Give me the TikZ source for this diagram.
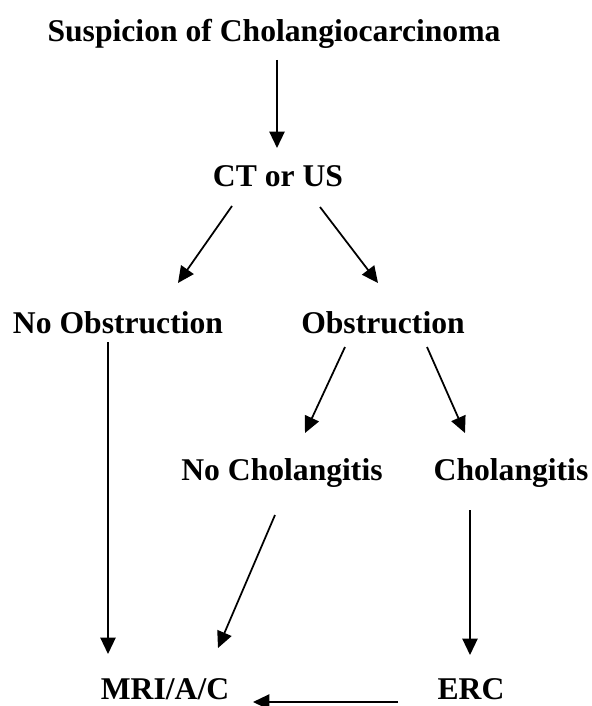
\documentclass[tikz,border=0pt]{standalone}
\usepackage{fontspec}
\setmainfont{Liberation Serif}
\usetikzlibrary{arrows.meta,calc}

\begin{document}
\begin{tikzpicture}[x=0.03cm,y=-0.03cm,
        lbl/.style={font=\fontsize{27}{32}\selectfont\bfseries,anchor=base,inner sep=0pt},
        arr/.style={line width=1.5pt,-{Triangle[length=14pt,width=13pt]}}]
        \useasboundingbox (0,0) rectangle (591,706);
        % labels, placed by baseline
        \node[lbl] (susp) at (274,42) {Suspicion of Cholangiocarcinoma};
        \node[lbl] (ct) at (278,186) {CT or US};
        \node[lbl] (noobs) at (118,333) {No Obstruction};
        \node[lbl] (obs) at (383,333) {Obstruction};
        \node[lbl] (nochol) at (282,480) {No Cholangitis};
        \node[lbl] (chol) at (511,480) {Cholangitis};
        \node[lbl] (mri) at (165,699) {MRI/A/C};
        \node[lbl] (erc) at (471,699) {ERC};
        % arrows
        \draw[arr] ($(susp.base)+(3,18)$) -- ($(ct.base)+(-1,-38)$);
        \draw[arr] ($(ct.base)+(-46,20)$) -- ($(noobs.base)+(60,-50)$);
        \draw[arr] ($(ct.base)+(42,21)$) -- ($(obs.base)+(-5,-50)$);
        \draw[arr] ($(obs.base)+(-38,14)$) -- ($(nochol.base)+(23,-47)$);
        \draw[arr] ($(obs.base)+(44,14)$) -- ($(chol.base)+(-46,-47)$);
        \draw[arr] ($(noobs.base)+(-10,9)$) -- ($(mri.base)+(-57,-45)$);
        \draw[arr] ($(nochol.base)+(-7,35)$) -- ($(mri.base)+(53,-51)$);
        \draw[arr] ($(chol.base)+(-41,30)$) -- ($(erc.base)+(-1,-44)$);
        \draw[arr] ($(erc.base)+(-73,3)$) -- ($(mri.base)+(88,3)$);
\end{tikzpicture}
\end{document}
